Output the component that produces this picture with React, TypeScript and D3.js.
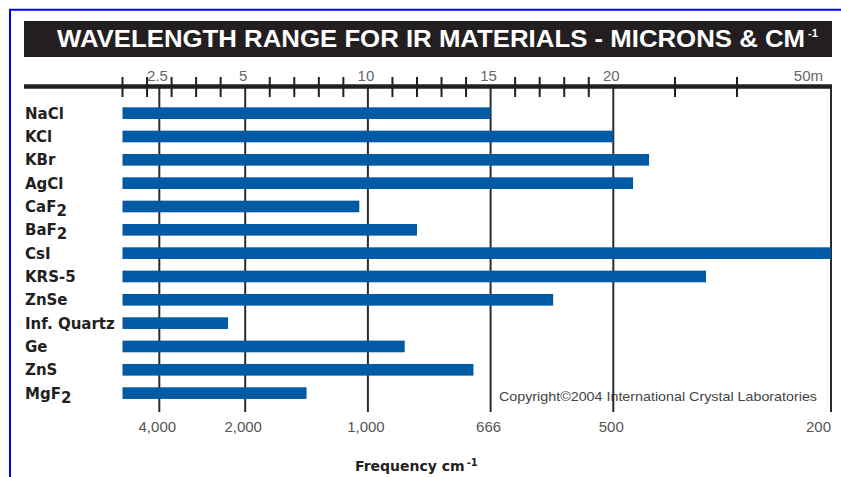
import React from "react";
import * as d3 from "d3";

// ---- data ----
const materials = ["NaCl", "KCl", "KBr", "AgCl", "CaF2", "BaF2", "CsI", "KRS-5", "ZnSe", "Inf. Quartz", "Ge", "ZnS", "MgF2"];
const rangeStart = [0, 0, 0, 0, 0, 0, 0, 0, 0, 0, 0, 0, 0];
const rangeEnd = [15, 20, 22.9, 21.6, 9.65, 12, 50, 27.5, 17.55, 4.3, 11.5, 14.3, 7.5];

const micronLabels = ["2.5", "5", "10", "15", "20", "50m"];
const wavenumberLabels = ["4,000", "2,000", "1,000", "666", "500", "200"];
const majorTickPos = [1.5, 5, 10, 15, 20, 50];
const minorTickPos = [0, 1, 2, 3, 4, 6, 7, 8, 9, 11, 12, 13, 14, 16, 17, 18, 19, 25, 30];

const titleText = "WAVELENGTH RANGE FOR IR MATERIALS - MICRONS & CM";
const axisTitle = "Frequency cm";
const copyright = "Copyright\u00A92004 International Crystal Laboratories";

const W = 841;
const H = 477;

function Label({ text, x, y }: { text: string; x: number; y: number }) {
  const m = text.match(/^(.*[A-Za-z])(\d)$/);
  if (m) {
    return (
      <text x={x} y={y} fontFamily="DejaVu Sans" fontWeight="bold" fontSize={15} fill="#231f20">
        {m[1]}
        <tspan dy={4}>{m[2]}</tspan>
      </text>
    );
  }
  return (
    <text x={x} y={y} fontFamily="DejaVu Sans" fontWeight="bold" fontSize={15} fill="#231f20">
      {text}
    </text>
  );
}

export default function App() {
  const x = d3.scaleLinear().domain([0, 20, 25, 30, 50]).range([122.5, 613.3, 675, 737, 831]);
  const y = d3
    .scaleBand<string>()
    .domain(materials)
    .range([101.5, 101.5 + 13 * 23.33])
    .paddingInner(0.5)
    .paddingOuter(0.25);

  const axisY = 86.5;
  const gridBottom = 412;
  const barColor = "#005ba4";

  return (
    <svg width={W} height={H} style={{ position: "absolute", left: 0, top: 0, background: "#fff" }}>
      <rect x={0} y={0} width={W} height={H} fill="#fff" />
      {/* blue frame */}
      <rect x={10} y={9.75} width={900} height={600} fill="none" stroke="#0000ff" strokeWidth={2} />

      {/* title bar */}
      <rect x={24} y={21} width={808} height={36} fill="#231f20" />
      <text
        x={57}
        y={47}
        fontFamily="Liberation Sans, Arial"
        fontWeight="bold"
        fontSize={24.5}
        fill="#fff"
        textLength={748}
        lengthAdjust="spacingAndGlyphs"
      >
        {titleText}
      </text>
      <text x={808} y={37} fontFamily="Liberation Sans, Arial" fontWeight="bold" fontSize={11} fill="#fff">
        -1
      </text>

      {/* copyright */}
      <text
        x={499}
        y={401}
        fontFamily="Liberation Sans, Arial"
        fontSize={13}
        fill="#444"
        textLength={318}
        lengthAdjust="spacingAndGlyphs"
      >
        {copyright}
      </text>

      {/* vertical grid lines at major ticks */}
      {majorTickPos.map((v, i) => (
        <line key={"g" + i} x1={x(v)} x2={x(v)} y1={axisY} y2={gridBottom} stroke="#2b2b2b" strokeWidth={2} />
      ))}

      {/* bars */}
      {materials.map((m, i) => (
        <rect
          key={m}
          x={x(rangeStart[i])}
          y={y(m)!}
          width={x(rangeEnd[i]) - x(rangeStart[i])}
          height={y.bandwidth()}
          fill={barColor}
        />
      ))}

      {/* category labels */}
      {materials.map((m) => (
        <Label key={"l" + m} text={m} x={25} y={y(m)! + y.bandwidth() / 2 + 5.5} />
      ))}

      {/* top axis line */}
      <line x1={24} x2={832} y1={axisY} y2={axisY} stroke="#231f20" strokeWidth={4.5} />
      {minorTickPos.map((v, i) => (
        <line key={"t" + i} x1={x(v)} x2={x(v)} y1={77} y2={97} stroke="#231f20" strokeWidth={2} />
      ))}

      {/* micron labels */}
      {micronLabels.map((t, i) => {
        const last = i === micronLabels.length - 1;
        return (
          <text
            key={"m" + t}
            x={last ? x(majorTickPos[i]) - 8 : x(majorTickPos[i]) - 2}
            y={80.5}
            textAnchor={last ? "end" : "middle"}
            fontFamily="Liberation Sans, Arial"
            fontSize={15}
            fill="#666"
          >
            {t}
          </text>
        );
      })}

      {/* wavenumber labels */}
      {wavenumberLabels.map((t, i) => {
        const last = i === wavenumberLabels.length - 1;
        return (
          <text
            key={"w" + t}
            x={last ? x(majorTickPos[i]) : x(majorTickPos[i]) - 2}
            y={431.5}
            textAnchor={last ? "end" : "middle"}
            fontFamily="Liberation Sans, Arial"
            fontSize={15}
            fill="#555"
          >
            {t}
          </text>
        );
      })}

      {/* axis title */}
      <text x={355} y={471} fontFamily="DejaVu Sans" fontWeight="bold" fontSize={14} fill="#231f20">
        {axisTitle}
        <tspan dx={2} dy={-5} fontSize={10}>-1</tspan>
      </text>
    </svg>
  );
}
